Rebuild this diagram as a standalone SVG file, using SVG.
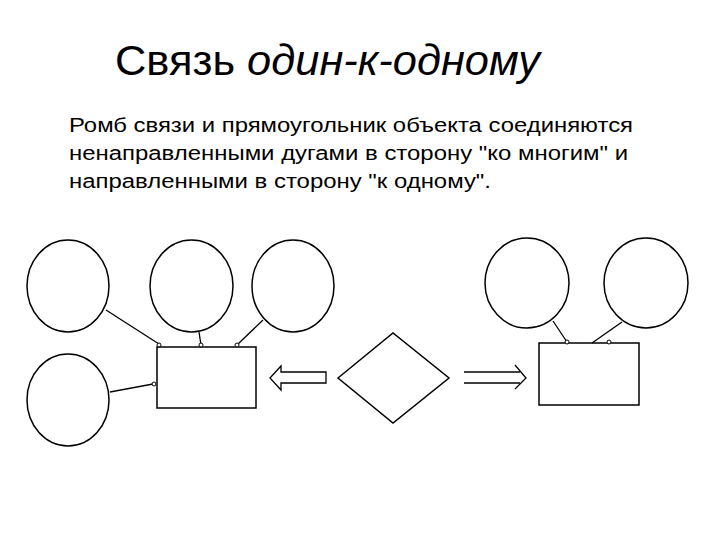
<svg xmlns="http://www.w3.org/2000/svg" width="720" height="540" viewBox="0 0 720 540">
<style>
.t{font-family:"Liberation Sans",Arial,sans-serif;fill:#000}
.sh{fill:#fff;stroke:#000;stroke-width:1.5}
.ln{stroke:#000;stroke-width:1.3;fill:none}
.dot{fill:#fff;stroke:#000;stroke-width:1}
</style>
<rect width="720" height="540" fill="#fff"/>
<text class="t" x="115" y="75" font-size="43" textLength="425" lengthAdjust="spacingAndGlyphs">Связь <tspan font-style="italic">один-к-одному</tspan></text>
<g class="t" font-size="20">
<text x="69" y="132" textLength="564" lengthAdjust="spacingAndGlyphs">Ромб связи и прямоугольник объекта соединяются</text>
<text x="69" y="160" textLength="559" lengthAdjust="spacingAndGlyphs">ненаправленными дугами в сторону "ко многим" и</text>
<text x="69" y="188" textLength="422" lengthAdjust="spacingAndGlyphs">направленными в сторону "к одному".</text>
</g>
<g id="left-circle-1"><ellipse class="sh" cx="68" cy="286" rx="41" ry="46"/></g>
<g id="left-circle-2"><ellipse class="sh" cx="191.5" cy="286" rx="41.5" ry="46"/></g>
<g id="left-circle-3"><ellipse class="sh" cx="293" cy="286" rx="41" ry="46"/></g>
<g id="left-circle-4"><ellipse class="sh" cx="68" cy="400" rx="41" ry="46"/></g>
<g id="left-rect"><rect class="sh" x="157" y="347" width="99" height="61"/></g>
<g id="diamond"><polygon class="sh" points="338,378 393,333 449,378 393,423"/></g>
<g id="right-circle-1"><ellipse class="sh" cx="527" cy="283" rx="42" ry="45"/></g>
<g id="right-circle-2"><ellipse class="sh" cx="646" cy="283" rx="42" ry="45"/></g>
<g id="right-rect"><rect class="sh" x="539" y="343" width="100" height="62"/></g>
<g id="connectors">
<line class="ln" x1="106" y1="310" x2="159" y2="344"/>
<line class="ln" x1="199" y1="332" x2="201" y2="345"/>
<line class="ln" x1="263" y1="320" x2="237" y2="345"/>
<line class="ln" x1="110" y1="392" x2="153" y2="384"/>
<line class="ln" x1="553" y1="321" x2="567" y2="342"/>
<line class="ln" x1="622" y1="322" x2="592" y2="343"/>
<circle class="dot" cx="159" cy="345" r="2"/>
<circle class="dot" cx="201" cy="345" r="2"/>
<circle class="dot" cx="237" cy="345" r="2"/>
<circle class="dot" cx="154" cy="384" r="2"/>
<circle class="dot" cx="567" cy="342" r="2"/>
<circle class="dot" cx="609" cy="342" r="2"/>
<polygon class="ln" points="270,378 281,366 281,372 326,372 326,383 281,383 281,390"/>
<line class="ln" x1="464" y1="372" x2="520" y2="372"/>
<line class="ln" x1="464" y1="383" x2="520" y2="383"/>
<polyline class="ln" points="515,365 526,378 515,389"/>
</g>
</svg>
